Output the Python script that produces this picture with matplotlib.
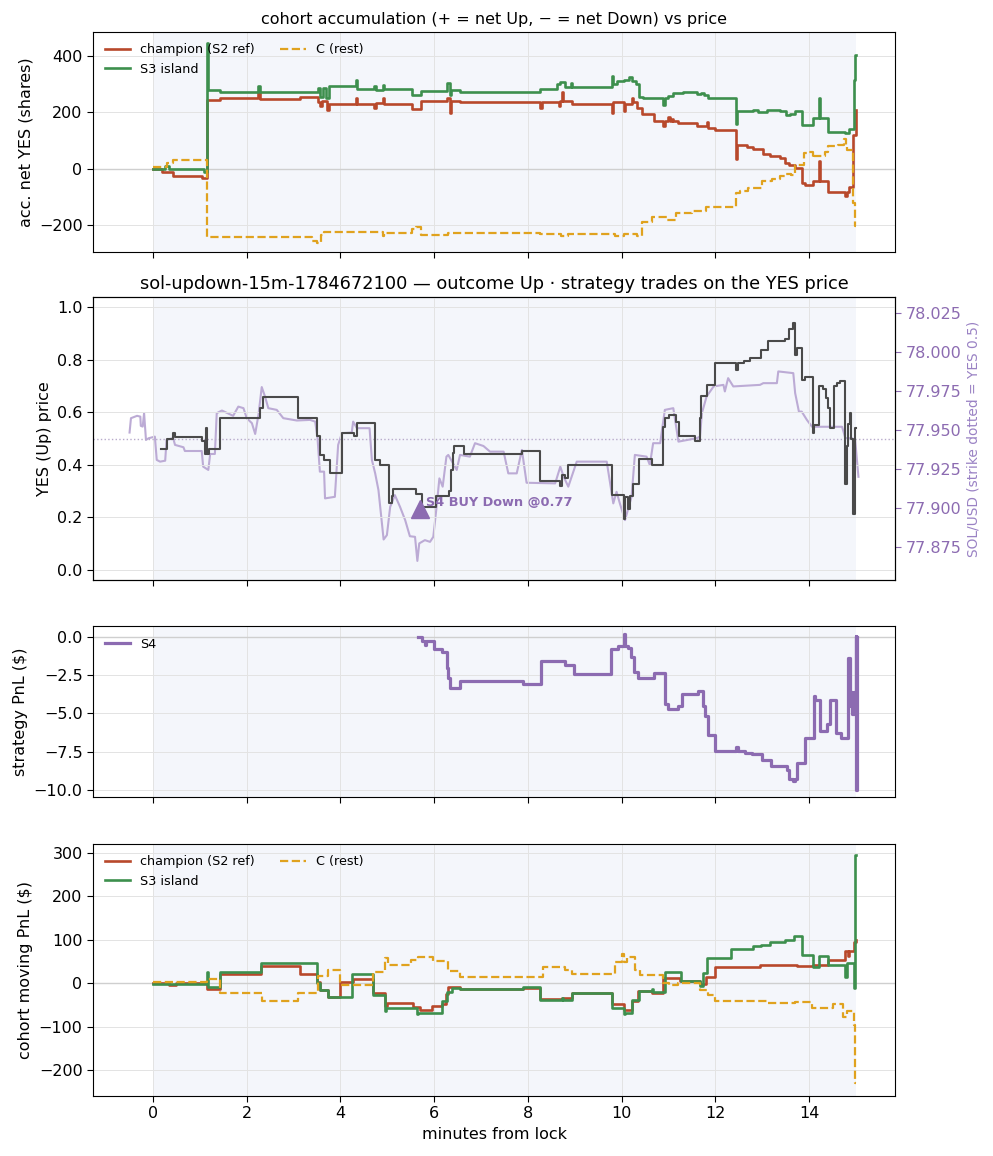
import matplotlib
matplotlib.use('Agg')
import matplotlib.pyplot as plt

# ---------------- colours ----------------
C_CHAMP = '#b8482b'
C_S3 = '#3d8f4d'
C_REST = '#e0a21e'
C_S4 = '#8c6bb1'
C_PRICE = '#4a4a4a'
C_SOL = '#b9a7d3'
C_SHADE = '#f4f6fb'

# ---------------- panel 1: accumulated net YES shares ----------------
champ_acc_t = [0, 0.19, 0.43, 1.05, 1.16, 1.43, 2.25, 2.29, 3.13, 3.52, 3.56, 3.60, 3.72, 3.76,
               4.33, 4.36, 4.72, 4.76, 4.90, 4.93, 5.52, 5.72, 6.28, 6.33, 6.36, 6.55,
               8.26, 8.29, 8.66, 8.69, 8.72, 8.75, 8.93, 9.79, 9.82, 10.04, 10.07, 10.21, 10.24,
               10.32, 10.43, 10.68, 10.89, 10.92, 10.99, 11.02, 11.07, 11.10, 11.21, 11.60,
               11.81, 11.84, 11.99, 12.44, 12.46, 12.67, 12.81, 13.02, 13.16, 13.38, 13.49,
               13.56, 13.70, 13.84, 13.91, 14.09, 14.20, 14.22, 14.41, 14.76, 14.80, 14.84,
               14.93, 14.99, 15.0]
champ_acc_v = [0, -10, -27, -33, 244, 250, 272, 248, 256, 238, 222, 240, 209, 228,
               252, 228, 214, 232, 250, 228, 212, 240, 250, 197, 242, 236,
               215, 236, 223, 240, 274, 240, 229, 199, 238, 205, 229, 250, 238,
               215, 194, 171, 150, 170, 185, 170, 178, 170, 162, 152,
               165, 144, 138, 34, 85, 79, 70, 53, 44, 38, 20,
               15, 2, -51, -57, -42, 26, -42, -84, -98, -84, -63,
               120, 209, 209]

s3_acc_t = [0, 0.25, 0.35, 1.08, 1.15, 1.17, 1.43, 2.25, 2.29, 3.52, 3.56, 3.62, 3.70, 3.76,
            4.33, 4.36, 4.72, 4.76, 4.90, 4.93, 5.52, 5.72, 6.28, 6.33, 6.36, 6.55,
            8.26, 8.62, 8.68, 8.79, 8.91, 8.94, 9.79, 9.82, 9.90, 10.04, 10.15, 10.21,
            10.30, 10.36, 10.45, 10.89, 10.92, 10.98, 11.10, 11.30, 11.60, 11.70, 11.75,
            11.84, 12.44, 12.46, 12.80, 12.90, 13.10, 13.38, 13.50, 13.60, 13.70, 13.84,
            14.09, 14.20, 14.22, 14.41, 14.77, 14.84, 14.95, 14.98, 15.0]
s3_acc_v = [0, 10, 0, -12, 445, 280, 271, 295, 271, 285, 255, 285, 250, 293,
            315, 282, 295, 280, 298, 282, 262, 277, 305, 262, 280, 271,
            284, 300, 308, 290, 305, 289, 330, 302, 310, 315, 325, 312,
            300, 256, 250, 225, 250, 258, 268, 274, 265, 270, 262,
            251, 160, 206, 210, 203, 208, 205, 191, 195, 205, 156,
            179, 250, 179, 132, 128, 140, 315, 403, 403]

rest_acc_t = [0, 0.30, 0.43, 1.16, 3.40, 3.50, 3.58, 3.65, 4.90, 4.93, 5.52, 5.62, 5.72, 6.30,
              8.26, 8.70, 8.85, 9.86, 10.04, 10.32, 10.43, 10.64, 10.96, 11.16, 11.50, 11.80,
              12.44, 12.52, 12.70, 13.00, 13.20, 13.38, 13.50, 13.62, 13.70, 13.88, 13.98,
              14.09, 14.11, 14.34, 14.41, 14.62, 14.75, 14.78, 14.80, 14.93, 14.98, 15.0]
rest_acc_v = [5, 20, 32, -243, -257, -262, -235, -225, -238, -226, -212, -208, -234, -228,
              -232, -240, -230, -237, -230, -240, -190, -171, -180, -157, -151, -136,
              -86, -80, -68, -45, -37, -27, -20, -22, 14, 55, 61,
              40, 46, 61, 81, 85, 105, 85, 67, -121, -204, -204]

# ---------------- panel 2: YES price, SOL price ----------------
yes_t = [0.17, 0.29, 0.43, 0.46, 1.04, 1.10, 1.13, 1.16, 1.20, 1.43, 2.28, 2.35, 3.10, 3.49,
         3.56, 3.65, 3.78, 4.03, 4.28, 4.35, 4.73, 4.85, 5.03, 5.10, 5.12, 5.62, 5.73,
         6.04, 6.32, 6.36, 6.39, 6.43, 6.63, 7.87, 8.26, 8.69, 8.72, 8.80, 8.86, 9.79,
         10.04, 10.07, 10.14, 10.17, 10.25, 10.36, 10.64, 10.87, 10.92, 11.00, 11.16,
         11.23, 11.56, 11.66, 11.70, 11.82, 11.99, 12.44, 12.47, 12.60, 12.74, 12.97,
         13.13, 13.49, 13.56, 13.66, 13.70, 13.73, 13.84, 13.91, 14.08, 14.10, 14.20,
         14.30, 14.36, 14.41, 14.45, 14.52, 14.60, 14.66, 14.76, 14.77, 14.80, 14.83,
         14.87, 14.90, 14.93, 14.98, 15.0]
yes_p = [0.46, 0.50, 0.52, 0.505, 0.49, 0.44, 0.54, 0.44, 0.46, 0.58, 0.616, 0.66, 0.58, 0.51,
         0.437, 0.418, 0.369, 0.52, 0.51, 0.558, 0.418, 0.398, 0.252, 0.28, 0.309, 0.29, 0.239,
         0.28, 0.30, 0.38, 0.443, 0.471, 0.44, 0.452, 0.338, 0.32, 0.36, 0.35, 0.40, 0.284,
         0.194, 0.277, 0.232, 0.28, 0.328, 0.42, 0.398, 0.545, 0.58, 0.59, 0.564,
         0.51, 0.49, 0.58, 0.663, 0.705, 0.79, 0.76, 0.79, 0.795, 0.807, 0.839,
         0.871, 0.88, 0.916, 0.94, 0.82, 0.846, 0.724, 0.734, 0.52, 0.55, 0.70,
         0.69, 0.654, 0.616, 0.541, 0.70, 0.711, 0.721, 0.494, 0.328, 0.47, 0.556,
         0.597, 0.50, 0.213, 0.539, 0.539]

sol_t = [-0.50, -0.47, -0.34, -0.27, -0.26, -0.22, -0.19, -0.15, -0.09, 0.04, 0.08, 0.15, 0.26,
         0.29, 0.43, 0.47, 0.65, 0.68, 1.04, 1.07, 1.18, 1.22, 1.32, 1.36, 1.47, 1.71, 1.82,
         1.93, 2.00, 2.11, 2.18, 2.25, 2.32, 2.39, 2.46, 2.64, 2.78, 3.07, 3.35, 3.46, 3.51,
         3.56, 3.65, 3.67, 3.88, 3.95, 4.03, 4.24, 4.27, 4.35, 4.62, 4.67, 4.74, 4.81, 4.92,
         4.99, 5.06, 5.16, 5.27, 5.38, 5.48, 5.59, 5.64, 5.68, 5.80, 5.91, 5.98, 6.05, 6.11,
         6.18, 6.26, 6.30, 6.48, 6.55, 6.76, 6.87, 7.05, 7.19, 7.48, 7.58, 7.76, 7.87, 7.97,
         8.58, 8.69, 8.76, 8.86, 9.04, 9.68, 9.82, 9.89, 9.96, 10.07, 10.21, 10.28, 10.53,
         10.60, 10.67, 10.82, 10.92, 11.10, 11.21, 11.60, 11.67, 11.71, 11.81, 11.96, 12.17,
         12.20, 12.27, 12.38, 12.95, 13.02, 13.31, 13.34, 13.66, 13.70, 13.78, 13.84, 13.95,
         14.06, 14.70, 14.73, 14.77, 14.91, 14.98, 15.05]
sol_v = [77.9483, 77.9575, 77.9590, 77.9585, 77.9526, 77.9521, 77.9607, 77.9436, 77.9447,
         77.9457, 77.9308, 77.9297, 77.9303, 77.9436, 77.9447, 77.9404, 77.9389, 77.9365,
         77.9365, 77.9265, 77.9244, 77.9346, 77.9346, 77.9607, 77.9624, 77.9590, 77.9649,
         77.9639, 77.9575, 77.9543, 77.9474, 77.9596, 77.9774, 77.9713, 77.9639, 77.9628,
         77.9575, 77.9560, 77.9564, 77.9553, 77.9447, 77.9233, 77.9233, 77.9062, 77.9072,
         77.9404, 77.9479, 77.9483, 77.9553, 77.9511, 77.9511, 77.9308, 77.9222, 77.9115,
         77.8799, 77.8827, 77.9008, 77.9083, 77.9008, 77.8923, 77.8820, 77.8816, 77.8662,
         77.8774, 77.8795, 77.8784, 77.8816, 77.9008, 77.9190, 77.9137, 77.9329, 77.9340,
         77.9244, 77.9340, 77.9329, 77.9415, 77.9397, 77.9361, 77.9361, 77.9222, 77.9222,
         77.9372, 77.9162, 77.9158, 77.9265, 77.9201, 77.9137, 77.9297, 77.9297, 77.9030,
         77.9104, 77.9030, 77.8923, 77.9072, 77.9340, 77.9329, 77.9276, 77.9415, 77.9415,
         77.9628, 77.9639, 77.9425, 77.9447, 77.9457, 77.9607, 77.9713, 77.9778, 77.9788,
         77.9746, 77.9831, 77.9778, 77.9788, 77.9799, 77.9799, 77.9874, 77.9863, 77.9735,
         77.9617, 77.9617, 77.9564, 77.9520, 77.9520, 77.9490, 77.9447, 77.9447, 77.9436,
         77.9200]

sol_strike = 77.9445
trade_t = 5.70
trade_yes = 0.23
trade_label = 'S4 BUY Down @0.77'

# ---------------- panel 3: strategy PnL ----------------
s4_t = [5.66, 5.73, 5.80, 5.83, 6.00, 6.17, 6.27, 6.30, 6.34, 6.54, 7.90, 8.27, 8.78, 8.98,
        9.78, 9.93, 10.04, 10.07, 10.13, 10.20, 10.27, 10.34, 10.68, 10.92, 10.98, 11.20,
        11.29, 11.63, 11.73, 11.78, 11.83, 12.00, 12.44, 12.47, 12.64, 12.78, 13.00, 13.18,
        13.52, 13.56, 13.65, 13.69, 13.73, 13.90, 14.10, 14.13, 14.24, 14.38, 14.45, 14.58,
        14.67, 14.82, 14.86, 14.88, 14.92, 14.95, 14.99, 15.00, 15.01]
s4_v = [0.0, -0.29, -0.5, -0.29, -0.77, -1.0, -2.05, -2.7, -3.33, -2.89, -3.05, -1.55, -1.83,
        -2.4, -0.8, -0.62, 0.2, -0.62, -0.73, -1.32, -2.27, -2.65, -2.38, -4.37, -4.7, -4.5,
        -3.75, -3.55, -4.5, -5.14, -6.4, -7.42, -7.2, -7.42, -7.57, -7.68, -8.06, -8.45,
        -8.68, -9.27, -9.4, -9.27, -8.23, -6.58, -3.86, -4.15, -6.14, -5.7, -4.15, -6.25,
        -6.58, -1.39, -4.5, -3.6, -5.03, -3.6, 0.05, -10.0, 0.0]

# ---------------- panel 4: cohort moving PnL ----------------
champ_pnl_t = [0, 0.35, 0.50, 1.15, 1.43, 2.30, 3.14, 3.49, 3.56, 3.74, 3.99, 4.27, 4.70, 4.95,
               5.00, 5.55, 5.70, 5.95, 6.16, 6.25, 6.30, 6.54, 7.90, 8.26, 8.72, 8.93, 9.79,
               10.04, 10.21, 10.34, 10.64, 10.89, 11.24, 11.67, 11.80, 12.00, 12.95, 13.73,
               14.08, 14.41, 14.77, 14.82, 14.85, 14.95, 15.0]
champ_pnl_v = [0, -3, 0, -14, 21.5, 40, 21, 2, -15, -32, 2, 10, -23, -52,
               -46, -54, -61.5, -52, -48, -25, -8, -14, -10, -36, -33, -23, -48,
               -61.5, -42, -19, -23, 11.5, 6, -1.5, 15, 38, 42, 40,
               42, 54, 75, 62, 75, 95, 100]

s3_pnl_t = [0, 1.15, 1.17, 1.43, 2.30, 3.49, 3.56, 3.74, 4.24, 4.70, 4.95, 4.98, 5.63, 5.66,
            6.16, 6.27, 6.37, 6.54, 7.90, 8.26, 8.72, 8.75, 8.93, 9.79, 10.04, 10.06, 10.21,
            10.36, 10.64, 10.67, 10.92, 11.05, 11.27, 11.67, 11.74, 11.81, 12.34, 12.81, 12.98,
            13.16, 13.49, 13.67, 13.84, 14.09, 14.20, 14.41, 14.77, 14.80, 14.95, 14.98, 15.0]
s3_pnl_v = [-2, 27, -9, 27, 46, 0, -15, -31, 21.5, -27, -65, -56, -71, -68,
            -40, -20, -10, -14, -9, -38, -33, -38, -23, -56, -71.5, -68, -38,
            -19, -14, -20, 25, 27, 6, -6, 23, 58, 78, 85, 88,
            96, 100, 109, 65, 38, 62, 42, 15, 46, -11, 296, 296]

rest_pnl_t = [0, 1.15, 1.43, 2.32, 3.10, 3.53, 3.74, 4.00, 4.70, 4.95, 5.02, 5.50, 5.66, 5.98,
              6.30, 6.54, 8.33, 8.79, 8.93, 9.86, 10.00, 10.04, 10.11, 10.28, 10.39, 10.89,
              11.00, 11.20, 11.67, 11.84, 12.00, 12.95, 13.10, 13.70, 14.05, 14.50, 14.73,
              14.80, 14.95, 14.98, 15.0]
rest_pnl_v = [2, 10, -21.5, -42, -21.5, 17, 31, -4, 25, 59, 42, 54, 61.5, 51.5,
              29, 15, 38, 31, 21.5, 50, 68, 50, 61.5, 31, 18, 0,
              -5, 0, -15, -28, -40, -42, -45, -43, -56, -47, -77,
              -65, -96, -231, -231]

# ---------------- figure ----------------
plt.rcParams['font.family'] = ['DejaVu Sans']
plt.rcParams['font.size'] = 11.5
plt.rcParams['xtick.labelsize'] = 11.5
plt.rcParams['ytick.labelsize'] = 11.5
plt.rcParams['xtick.major.size'] = 4
plt.rcParams['ytick.major.size'] = 4

W, H = 993, 1156
fig = plt.figure(figsize=(W / 100, H / 100), dpi=100)


def rect(l, t, r, b):
    return [l / W, 1 - b / H, (r - l) / W, (b - t) / H]


ax1 = fig.add_axes(rect(93, 32, 895, 252))
ax2 = fig.add_axes(rect(93, 297, 895, 580), sharex=ax1)
ax3 = fig.add_axes(rect(93, 626, 895, 797), sharex=ax1)
ax4 = fig.add_axes(rect(93, 844, 895, 1096), sharex=ax1)

for ax in (ax1, ax2, ax3, ax4):
    ax.grid(True, color='#e3e3e3', lw=0.7)
    ax.set_axisbelow(True)

for ax in (ax1, ax3, ax4):
    ax.axvspan(0, 15, color=C_SHADE, zorder=0, lw=0)
    ax.axhline(0, color='#cfcfcf', lw=1.0, zorder=1)

LEG_FS = 9.2

# panel 1
ax1.step(champ_acc_t, champ_acc_v, where='post', color=C_CHAMP, lw=1.9, label='champion (S2 ref)')
ax1.step(s3_acc_t, s3_acc_v, where='post', color=C_S3, lw=1.9, label='S3 island')
ax1.step(rest_acc_t, rest_acc_v, where='post', color=C_REST, lw=1.6, ls='--', label='C (rest)')
ax1.set_ylim(-295, 485)
ax1.set_ylabel('acc. net YES (shares)')
ax1.set_title('cohort accumulation (+ = net Up, \u2212 = net Down) vs price', fontsize=11.5)
ax1.legend(loc='upper left', ncol=2, frameon=False, fontsize=LEG_FS)
ax1.tick_params(labelbottom=False)

# panel 2
ax2b = ax2.twinx()
ax2.set_zorder(ax2b.get_zorder() + 1)
ax2.patch.set_visible(False)
ax2b.axvspan(0, 15, color=C_SHADE, zorder=0, lw=0)
ax2b.plot(sol_t, sol_v, color=C_SOL, lw=1.5, alpha=0.95)
half = 0.0905
ax2b.set_ylim(sol_strike - half, sol_strike + half)
ax2b.set_yticks([77.875, 77.900, 77.925, 77.950, 77.975, 78.000, 78.025])
ax2b.set_yticklabels(['77.875', '77.900', '77.925', '77.950', '77.975', '78.000', '78.025'])
ax2b.tick_params(axis='y', colors=C_S4, labelcolor=C_S4)
ax2b.set_ylabel('SOL/USD (strike dotted = YES 0.5)', color='#9a82c4', fontsize=9.9)

ax2.axhline(0.5, color='#b8aacb', lw=1.0, ls=':', zorder=1)
ax2.step(yes_t, yes_p, where='post', color=C_PRICE, lw=1.5, zorder=3)
ax2.plot([trade_t], [trade_yes], marker='^', ms=13, color=C_S4, ls='none', zorder=4)
ax2.annotate(trade_label, (trade_t, trade_yes), xytext=(4, 5), textcoords='offset points',
             color=C_S4, fontsize=9.3, fontweight='bold', ha='left', va='center', zorder=5)
ax2.set_ylim(-0.04, 1.04)
ax2.set_yticks([0.0, 0.2, 0.4, 0.6, 0.8, 1.0])
ax2.set_ylabel('YES (Up) price')
ax2.set_title('sol-updown-15m-1784672100 \u2014 outcome Up \u00b7 strategy trades on the YES price',
              fontsize=12.8)
ax2.tick_params(labelbottom=False)

# panel 3
ax3.step(s4_t, s4_v, where='post', color=C_S4, lw=2.3, label='S4')
ax3.set_ylim(-10.46, 0.72)
ax3.set_yticks([0.0, -2.5, -5.0, -7.5, -10.0])
ax3.set_ylabel('strategy PnL ($)')
ax3.legend(loc='upper left', frameon=False, fontsize=LEG_FS)
ax3.tick_params(labelbottom=False)

# panel 4
ax4.step(champ_pnl_t, champ_pnl_v, where='post', color=C_CHAMP, lw=1.9, label='champion (S2 ref)')
ax4.step(s3_pnl_t, s3_pnl_v, where='post', color=C_S3, lw=1.9, label='S3 island')
ax4.step(rest_pnl_t, rest_pnl_v, where='post', color=C_REST, lw=1.6, ls='--', label='C (rest)')
ax4.set_ylim(-260, 321)
ax4.set_ylabel('cohort moving PnL ($)')
ax4.set_xlabel('minutes from lock')
ax4.legend(loc='upper left', ncol=2, frameon=False, fontsize=LEG_FS)

ax1.set_xlim(-1.28, 15.83)
ax1.set_xticks([0, 2, 4, 6, 8, 10, 12, 14])

fig.savefig('out.png', dpi=100)
